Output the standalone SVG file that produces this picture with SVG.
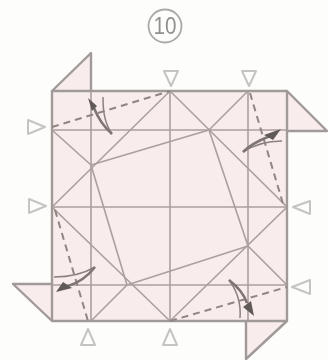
<svg xmlns="http://www.w3.org/2000/svg" width="328" height="360" viewBox="0 0 328 360">
<style>
.paper{fill:#f9ecec;stroke:none}
.edge{fill:none;stroke:#a09a98;stroke-width:2.4;stroke-linejoin:round}
.fold{fill:none;stroke:#aaa09f;stroke-width:1.6}
.dash{fill:none;stroke:#8f8684;stroke-width:2;stroke-dasharray:7 5}
.tri{fill:#fdfdfb;stroke:#c4c4c0;stroke-width:2;stroke-linejoin:round}
.arr{fill:none;stroke:#8a8280;stroke-width:1.5}
.arrb{fill:none;stroke:#7d7674;stroke-width:2.6}
.head{fill:#5f5a58;stroke:none}
text{font-family:"Liberation Sans",Arial,sans-serif;font-size:23px;fill:#92908e;text-anchor:middle}
</style>
<defs><filter id="soft" x="-5%" y="-5%" width="110%" height="110%"><feGaussianBlur stdDeviation="0.5"/></filter></defs>
<rect width="328" height="360" fill="#fdfdfb"/>
<g filter="url(#soft)">
<g id="step-number"><circle cx="165" cy="26" r="16.5" fill="none" stroke="#a9a9a6" stroke-width="1.8"/><text x="165" y="34" textLength="23" lengthAdjust="spacingAndGlyphs">10</text></g>
<g id="sheet">
<polygon class="paper" points="52,91 91,53 91,91 287,91 327,131 287,131 287,321 52,321"/>
<polygon class="paper" points="246,321 286,321 246,359"/>
<polygon class="paper" points="13,284 52,284 52,321"/>
<path class="fold" d="M91,91V321M170,91V321M248,91V321M52,130H287M52,207H287M52,285H287"/>
<path class="fold" d="M52,207L170,91L287,207L170,321ZM52,130L91,165M248,91L209,130M287,285L248,246M91,321L127,285"/>
<path class="fold" d="M91,165L209,130L248,246L127,285Z"/>
<path class="edge" d="M52,91H287V321H52ZM52,91L91,53V91M287,91L327,131H287M52,284H13L52,321M246,321V359L287,321"/>
</g>
<g id="connectors">
<path class="dash" d="M52,127L170,91M250,93L284,207M55,210L88,321M170,321L287,287"/>
<path class="arr" d="M103,97C103,110 104,122 112,134"/>
<path class="arrb" d="M94,108C98,118 104,127 112,134"/>
<path class="arr" d="M282,141C268,141 255,144 243,152"/>
<path class="arrb" d="M270,136C260,140 251,144 243,152"/>
<path class="arr" d="M54,277C68,277 83,274 95,267"/>
<path class="arrb" d="M68,286C78,283 88,276 95,267"/>
<path class="arr" d="M240,318C241,305 238,292 229,280"/>
<path class="arrb" d="M247,303C244,294 238,287 229,280"/>
<polygon class="head" points="88,98 97,106 92,111"/>
<polygon class="head" points="281,129 273,140 264,135"/>
<polygon class="head" points="56,292 63,282 72,288"/>
<polygon class="head" points="254,316 243,307 251,301"/>
</g>
<g id="markers">
<polygon class="tri" points="28,120 28,134 45,127"/>
<polygon class="tri" points="29,199 29,213 46,206"/>
<polygon class="tri" points="164,71 178,71 171,86"/>
<polygon class="tri" points="242,71 256,71 249,86"/>
<polygon class="tri" points="310,201 310,214 293,207"/>
<polygon class="tri" points="310,280 310,294 292,287"/>
<polygon class="tri" points="81,345 95,345 88,329"/>
<polygon class="tri" points="163,345 177,345 170,329"/>
</g>
</g>
</svg>
